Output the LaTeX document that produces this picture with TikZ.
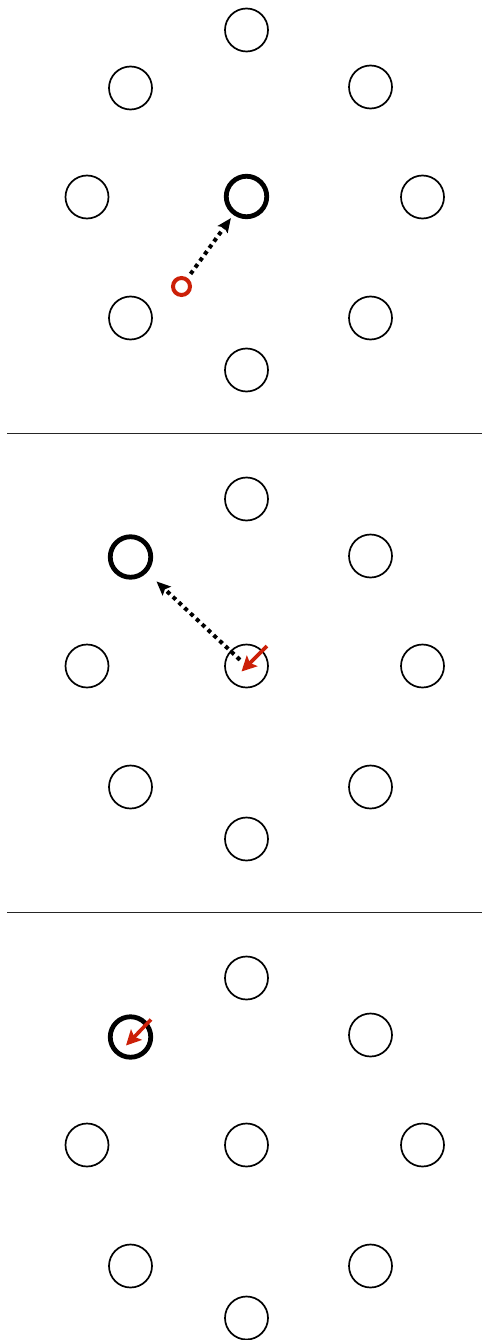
\documentclass[tikz,border=0pt]{standalone}
\usetikzlibrary{arrows.meta}
\definecolor{redc}{RGB}{204,32,8}
\tikzset{
  ring/.style={circle,draw=black,line width=1.7pt,inner sep=0pt,minimum size=43pt},
  boldring/.style={circle,draw=black,line width=4.8pt,inner sep=0pt,minimum size=40.5pt},
  redring/.style={circle,draw=redc,line width=4pt,inner sep=0pt,minimum size=17pt},
  dotarrow/.style={line width=4pt,dash pattern=on 4pt off 4pt,-{Stealth[length=14pt,width=12pt,inset=2.5pt]}},
  redarrow/.style={draw=redc,line width=3.6pt,-{Stealth[length=15pt,width=15pt,inset=3pt]}},
  sep/.style={line width=1.4pt,draw=black!85}
}
\begin{document}
\begin{tikzpicture}[x=1pt,y=-1pt]
\useasboundingbox (0,0) rectangle (482,1340);
% shared positions for the three panels
\foreach \p/\c in {1/197,2/666,3/1145}{
  \node[ring] (p\p t)  at (246.5,\c-167) {};
  \node[ring] (p\p ur) at (370.5,\c-110) {};
  \node[ring] (p\p l)  at (87,\c) {};
  \node[ring] (p\p r)  at (422.5,\c) {};
  \node[ring] (p\p ll) at (130.5,\c+121) {};
  \node[ring] (p\p lr) at (370.5,\c+121) {};
  \node[ring] (p\p b)  at (246.5,\c+173) {};
}
% panel 1
\node[ring] (p1ul) at (130.5,88) {};
\node[boldring] (p1c) at (246.5,196.5) {};
\node[redring] (p1red) at (181.5,286.5) {};
\draw[dotarrow,shorten <=5pt,shorten >=4pt] (p1red) -- (p1c);
% separator 1
\coordinate (s1a) at (7,433.3);
\coordinate (s1b) at (482,433.3);
\draw[sep] (s1a) -- (s1b);
% panel 2
\node[boldring] (p2ul) at (130.5,557) {};
\node[ring] (p2c) at (246.5,666) {};
\draw[dotarrow,shorten <=9pt,shorten >=13pt] (p2c.center) -- (p2ul);
\coordinate (r2a) at (267,646);
\coordinate (r2b) at (241.5,671.5);
\draw[redarrow] (r2a) -- (r2b);
% separator 2
\coordinate (s2a) at (7,912.3);
\coordinate (s2b) at (482,912.3);
\draw[sep] (s2a) -- (s2b);
% panel 3
\node[boldring] (p3ul) at (130.5,1037) {};
\node[ring] (p3c) at (246.5,1145) {};
\coordinate (r3a) at (151,1019.5);
\coordinate (r3b) at (126,1045.5);
\draw[redarrow] (r3a) -- (r3b);
\end{tikzpicture}
\end{document}
